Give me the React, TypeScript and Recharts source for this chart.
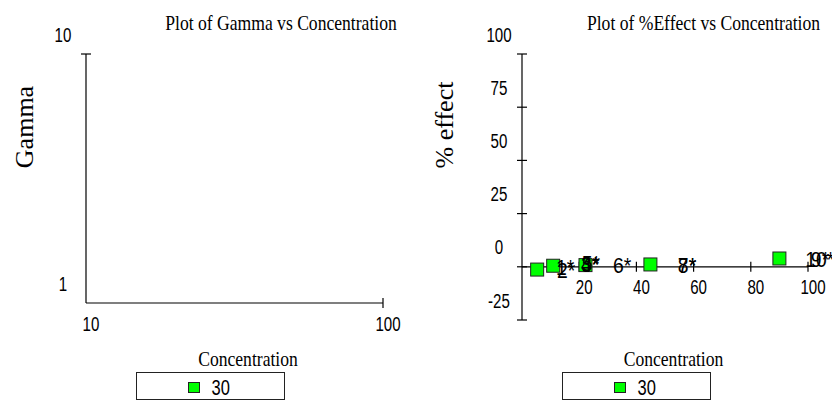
import React from "react";
import { ScatterChart, Scatter, XAxis, YAxis, ReferenceLine, ReferenceDot } from "recharts";

// left panel: Gamma vs Concentration (log/log, no points)
const gammaXTicks = [10, 100];
const gammaYTicks = [1, 10];
const gammaPoints: { conc: number; gamma: number }[] = [];

// right panel: %Effect vs Concentration
const effectXTicks = [20, 40, 60, 80, 100];
const effectYTicks = [-25, 0, 25, 50, 75, 100];
const effectConc = [5.3, 10.9, 22.2, 44.9, 90];
const effectValues = [-1.3, 0.5, 0.8, 1.1, 3.9];

const pointLabels = ["1*", "2*", "3*", "4*", "5*", "6*", "7*", "8*", "9*", "10*"];
const labelConc = [11.9, 12.2, 20.6, 20.6, 20.9, 31.8, 54.5, 54.5, 101, 99];
const labelValues = [-3.8, -5.2, -2.3, -2.3, -1.9, -2.8, -2.8, -2.8, 0, 0];

const seriesName = "30";

const effectPoints = effectConc.map((c, i) => ({ conc: c, effect: effectValues[i] }));

const SANS = "'Liberation Sans', Arial, sans-serif";
const SERIF = "'Liberation Serif', 'Times New Roman', serif";

const Narrow = ({ x, y, children, anchor = "middle", size = 21, sx = 0.72, family = SANS }: any) => (
  <g transform={`translate(${x},${y})`}>
    <text transform={`scale(${sx},1)`} textAnchor={anchor} fontSize={size} fontFamily={family} fill="#000">
      {children}
    </text>
  </g>
);

const makeYTick = (skipFirst: boolean) => (props: any) => {
  const { x, y, payload, index } = props;
  return (
    <g>
      {!(skipFirst && index === 0) && <line x1={x - 5} x2={x + 5} y1={y} y2={y} stroke="#000" strokeWidth={1.2} />}
      <Narrow x={x - 23} y={y - 20 + 7.5}>{payload.value}</Narrow>
    </g>
  );
};

const makeXTick = (skipFirst: boolean) => (props: any) => {
  const { x, y, payload, index } = props;
  return (
    <g>
      {!(skipFirst && index === 0) && <line x1={x} x2={x} y1={y - 5} y2={y + 5} stroke="#000" strokeWidth={1.2} />}
      <Narrow x={x + 5} y={y + 20 + 7.5}>{payload.value}</Narrow>
    </g>
  );
};

const Square = ({ cx, cy }: any) => (
  <rect x={cx - 6.5} y={cy - 6.5} width={13} height={13} fill="#00ff00" stroke="#222" strokeWidth={1} />
);

const LegendBox = ({ x, y }: { x: number; y: number }) => (
  <g>
    <rect x={x} y={y} width={148} height={27} fill="#fff" stroke="#222" strokeWidth={1} />
    <rect x={x + 52} y={y + 10} width={11} height={10} fill="#00ff00" stroke="#222" strokeWidth={1} />
    <Narrow x={x + 75} y={y + 22} anchor="start" size={22} sx={0.75}>{seriesName}</Narrow>
  </g>
);

export default function App() {
  return (
    <div style={{ position: "absolute", left: 0, top: 0, width: 832, height: 401, background: "#fff" }}>
      <div style={{ position: "absolute", left: 0, top: 0 }}>
        <ScatterChart width={420} height={401} margin={{ top: 54, right: 37, bottom: 0, left: 0 }}>
          <XAxis
            type="number"
            dataKey="conc"
            scale="log"
            domain={[10, 100]}
            allowDataOverflow
            ticks={gammaXTicks}
            height={98}
            tickSize={0}
            tickMargin={0}
            tickLine={false}
            axisLine={{ stroke: "#000", strokeWidth: 1.2 }}
            tick={makeXTick(true)}
            interval={0}
          />
          <YAxis
            type="number"
            dataKey="gamma"
            scale="log"
            domain={[1, 10]}
            allowDataOverflow
            ticks={gammaYTicks}
            width={86}
            tickSize={0}
            tickMargin={0}
            tickLine={false}
            axisLine={{ stroke: "#000", strokeWidth: 1.2 }}
            tick={makeYTick(true)}
            interval={0}
          />
          <Scatter name={seriesName} data={gammaPoints} shape={Square} isAnimationActive={false} />
        </ScatterChart>
      </div>
      <div style={{ position: "absolute", left: 420, top: 0 }}>
        <ScatterChart width={412} height={401} margin={{ top: 54, right: 24, bottom: 81, left: 0 }}>
          <XAxis type="number" dataKey="conc" domain={[0, 100]} ticks={effectXTicks} hide height={0} />
          <YAxis
            type="number"
            dataKey="effect"
            domain={[-25, 100]}
            ticks={effectYTicks}
            width={102}
            tickSize={0}
            tickMargin={0}
            tickLine={false}
            axisLine={{ stroke: "#000", strokeWidth: 1.2 }}
            tick={makeYTick(false)}
            interval={0}
          />
          <ReferenceLine y={0} stroke="#000" strokeWidth={1.2} />
          {effectXTicks.map((v) => (
            <ReferenceDot
              key={"t" + v}
              x={v}
              y={0}
              r={0}
              ifOverflow="visible"
              shape={(p: any) => (
                <g>
                  <line x1={p.cx} x2={p.cx} y1={p.cy - 5} y2={p.cy + 5} stroke="#000" strokeWidth={1.2} />
                  <Narrow x={p.cx + 5} y={p.cy + 27.5}>{v}</Narrow>
                </g>
              )}
            />
          ))}
          <Scatter name={seriesName} data={effectPoints} shape={Square} isAnimationActive={false} />
          {pointLabels.map((lab, i) => (
            <ReferenceDot
              key={lab}
              x={labelConc[i]}
              y={labelValues[i]}
              r={0}
              ifOverflow="visible"
              shape={(p: any) => (
                <Narrow x={p.cx} y={p.cy} anchor="start" size={22} sx={0.88}>{lab}</Narrow>
              )}
            />
          ))}
        </ScatterChart>
      </div>
      <svg width={832} height={401} style={{ position: "absolute", left: 0, top: 0, pointerEvents: "none" }}>
        <Narrow x={281} y={30} size={22} sx={0.8} family={SERIF}>Plot of Gamma vs Concentration</Narrow>
        <Narrow x={703.5} y={30} size={22} sx={0.8} family={SERIF}>Plot of %Effect vs Concentration</Narrow>
        <Narrow x={248} y={366} size={22} sx={0.8} family={SERIF}>Concentration</Narrow>
        <Narrow x={673.5} y={366} size={22} sx={0.8} family={SERIF}>Concentration</Narrow>
        <text transform="translate(33,127) rotate(-90)" textAnchor="middle" fontSize={26} fontFamily={SERIF}>Gamma</text>
        <text transform="translate(453,125) rotate(-90)" textAnchor="middle" fontSize={26} fontFamily={SERIF}>% effect</text>
        <LegendBox x={136.5} y={372.5} />
        <LegendBox x={562.5} y={372.5} />
      </svg>
    </div>
  );
}
